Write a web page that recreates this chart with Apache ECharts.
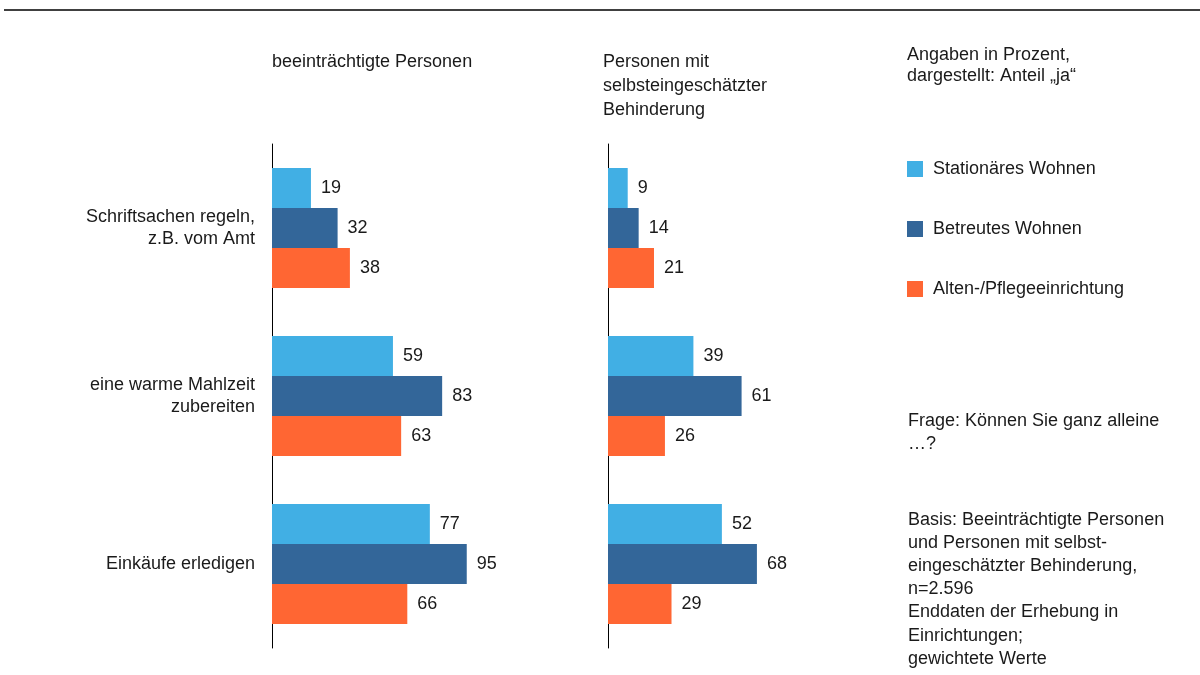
<!DOCTYPE html>
<html>
<head>
<meta charset="utf-8">
<script src="https://cdn.jsdelivr.net/npm/echarts@6/dist/echarts.min.js"></script>
<style>html,body{margin:0;padding:0;background:#fff}#c{width:1200px;height:675px}</style>
</head>
<body>
<div id="c"></div>
<script>
const categories = ['Schriftsachen regeln,\nz.B. vom Amt', 'eine warme Mahlzeit\nzubereiten', 'Einkäufe erledigen'];
const seriesNames = ['Stationäres Wohnen', 'Betreutes Wohnen', 'Alten-/Pflegeeinrichtung'];
const colors = ['#41AFE4', '#336699', '#FF6633'];
// Panel 1: beeinträchtigte Personen
const leftStationaer = [19, 59, 77];
const leftBetreut = [32, 83, 95];
const leftAlten = [38, 63, 66];
// Panel 2: Personen mit selbsteingeschätzter Behinderung
const rightStationaer = [9, 39, 52];
const rightBetreut = [14, 61, 68];
const rightAlten = [21, 26, 29];

const panelTitles = ['beeinträchtigte Personen', 'Personen mit\nselbsteingeschätzter\nBehinderung'];
const noteTitle = 'Angaben in Prozent,\ndargestellt: Anteil „ja“';
const noteQuestion = 'Frage: Können Sie ganz alleine\n…?';
const noteBasis = 'Basis: Beeinträchtigte Personen\nund Personen mit selbst-\neingeschätzter Behinderung,\nn=2.596\nEnddaten der Erhebung in\nEinrichtungen;\ngewichtete Werte';

const FONT = '"Liberation Sans", Arial, sans-serif';
const TXT = '#1a1a1a';

const panels = [
  [leftStationaer, leftBetreut, leftAlten],
  [rightStationaer, rightBetreut, rightAlten]
];

const series = [];
panels.forEach((arrs, gi) => {
  arrs.forEach((data, si) => {
    series.push({
      type: 'bar',
      name: seriesNames[si],
      xAxisIndex: gi,
      yAxisIndex: gi,
      data: data,
      barWidth: 40,
      barGap: '0%',
      itemStyle: { color: colors[si] },
      label: {
        show: true, position: 'right', distance: 10,
        fontFamily: FONT, fontSize: 18, color: TXT
      },
      emphasis: { disabled: true }
    });
  });
});

const chart = echarts.init(document.getElementById('c'), null, { renderer: 'canvas' });
chart.setOption({
  animation: false,
  textStyle: { fontFamily: FONT },
  grid: [
    { left: 272, top: 144, width: 205, height: 504 },
    { left: 608, top: 144, width: 219, height: 504 }
  ],
  xAxis: [0, 1].map(i => ({
    type: 'value', gridIndex: i, min: 0, max: 100, show: false
  })),
  yAxis: [0, 1].map(i => ({
    type: 'category', gridIndex: i, data: categories, inverse: true,
    axisLine: { show: true, lineStyle: { color: '#000', width: 1 } },
    axisTick: { show: false },
    axisLabel: {
      show: i === 0, margin: 17, fontFamily: FONT, fontSize: 18,
      color: TXT, lineHeight: 22, align: 'right'
    },
    splitLine: { show: false }
  })),
  legend: {
    orient: 'vertical', left: 907, top: 160, padding: 0,
    data: seriesNames,
    icon: 'rect', itemWidth: 16, itemHeight: 16, itemGap: 42,
    selectedMode: false,
    textStyle: { fontFamily: FONT, fontSize: 18, color: TXT, lineHeight: 16, padding: [0, 0, 0, 5] }
  },
  graphic: [
    { type: 'line', shape: { x1: 4, y1: 10, x2: 1200, y2: 10 }, style: { stroke: '#000', lineWidth: 1.5 } },
    { type: 'text', left: 272, top: 51, style: { text: panelTitles[0], font: '18px ' + FONT, fill: TXT, lineHeight: 22 } },
    { type: 'text', left: 603, top: 50, style: { text: panelTitles[1], font: '18px ' + FONT, fill: TXT, lineHeight: 24 } },
    { type: 'text', left: 907, top: 45, style: { text: noteTitle, font: '18px ' + FONT, fill: TXT, lineHeight: 21 } },
    { type: 'text', left: 908, top: 410, style: { text: noteQuestion, font: '18px ' + FONT, fill: TXT, lineHeight: 23 } },
    { type: 'text', left: 908, top: 508, style: { text: noteBasis, font: '18px ' + FONT, fill: TXT, lineHeight: 23.2 } }
  ],
  series: series
});
</script>
</body>
</html>
